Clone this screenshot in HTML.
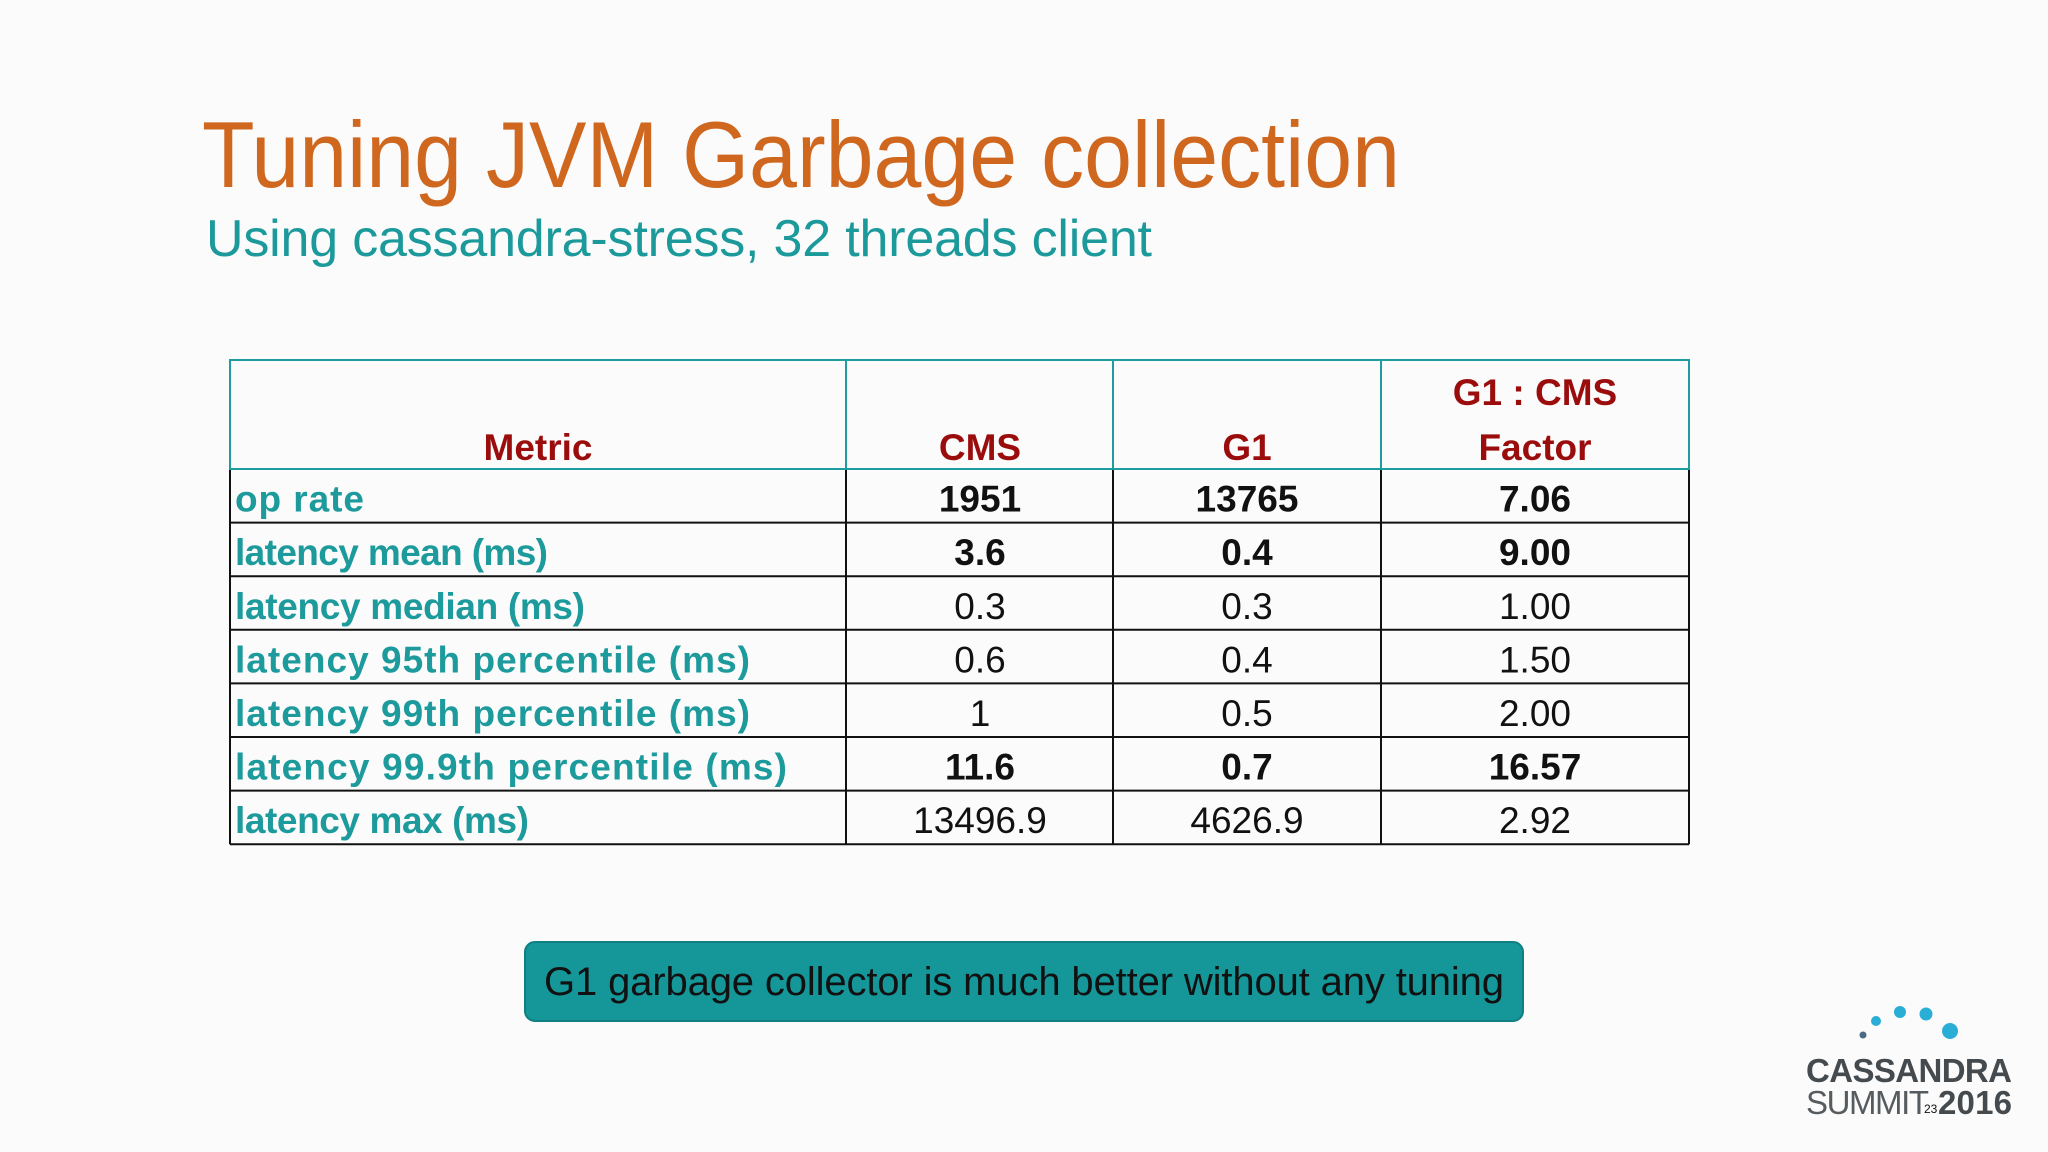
<!DOCTYPE html>
<html><head><meta charset="utf-8"><style>
html,body{margin:0;padding:0;background:#fbfbfb;}
svg{display:block;font-family:"Liberation Sans",Arial,sans-serif;}
</style></head><body>
<svg id="slide" width="2048" height="1152" viewBox="0 0 2048 1152">
<rect width="2048" height="1152" fill="#fbfbfb"/>
<text x="202" y="187" font-size="94" fill="#d0671f" textLength="1198" lengthAdjust="spacingAndGlyphs">Tuning JVM Garbage collection</text>
<text x="206" y="256" font-size="52" fill="#1c999b" textLength="946">Using cassandra-stress, 32 threads client</text>
<g id="tbl"></g>
<g>
<rect x="525" y="942" width="998" height="79" rx="10" fill="#15979a" stroke="#0f7f82" stroke-width="2"/>
<text x="1024" y="995" font-size="40" fill="#111" text-anchor="middle" textLength="960">G1 garbage collector is much better without any tuning</text>
</g>
<g>
<circle cx="1863" cy="1035" r="3.5" fill="#4a6a86"/>
<circle cx="1876" cy="1021" r="5" fill="#2aaed6"/>
<circle cx="1900" cy="1012" r="6" fill="#2aaed6"/>
<circle cx="1926" cy="1014" r="6.5" fill="#2aaed6"/>
<circle cx="1950" cy="1031" r="8" fill="#2aaed6"/>
<text x="1806" y="1082" font-size="33" font-weight="bold" fill="#444a4e" textLength="206">CASSANDRA</text>
<text x="1806" y="1114" font-size="33" fill="#555b5e" textLength="123">SUMMIT</text>
<text x="1938" y="1114" font-size="33" font-weight="bold" fill="#444a4e" textLength="74">2016</text>
<text x="1924" y="1113" font-size="12" fill="#111">23</text>
</g>
</svg>
<script>
const metrics=["op rate","latency mean (ms)","latency median (ms)","latency 95th percentile (ms)","latency 99th percentile (ms)","latency 99.9th percentile (ms)","latency max (ms)"];
const cmsVals=["1951","3.6","0.3","0.6","1","11.6","13496.9"];
const g1Vals=["13765","0.4","0.3","0.4","0.5","0.7","4626.9"];
const factorVals=["7.06","9.00","1.00","1.50","2.00","16.57","2.92"];
const boldRows=[true,true,false,false,false,true,false];
const NS="http://www.w3.org/2000/svg";
const g=document.getElementById('tbl');
const X=[230,846,1113,1381,1689],TOP=360,HB=469,RH=53.6;
const cx=[null,980,1247,1535];
function mk(t,a,txt){const e=document.createElementNS(NS,t);for(const k in a)e.setAttribute(k,a[k]);if(txt!=null)e.textContent=txt;g.appendChild(e);return e;}
const bottom=HB+RH*metrics.length;
for(let i=1;i<=metrics.length;i++){const l=mk('line',{x1:X[0],x2:X[4],y1:HB+RH*i,y2:HB+RH*i,stroke:'#111','stroke-width':2});

}
for(const x of X){const l=mk('line',{x1:x,x2:x,y1:HB,y2:bottom,stroke:'#111','stroke-width':2});

}
const hr=mk('rect',{x:X[0],y:TOP,width:X[4]-X[0],height:HB-TOP,fill:'none',stroke:'#1f9ca0','stroke-width':2});


for(const x of X.slice(1,4)){const l=mk('line',{x1:x,x2:x,y1:TOP,y2:HB,stroke:'#1f9ca0','stroke-width':2});

}
const hdr=[["Metric",538,460],["CMS",980,460],["G1",1247,460],["G1 : CMS",1535,405],["Factor",1535,460]];
for(const h of hdr){const t=mk('text',{x:h[1],y:h[2],'font-size':37,'font-weight':'bold',fill:'#9b0d0d','text-anchor':'middle'},h[0]);

}
metrics.forEach((m,i)=>{
 const y=HB+RH*(i+1)-11;
 const lab=mk('text',{x:235,y:y,'font-size':37,'font-weight':'bold',fill:'#1c9a9c'},m);
 lab.setAttribute('textLength',(m.length*18.4).toFixed(0));
 
 
 [cmsVals,g1Vals,factorVals].forEach((arr,j)=>{
  const t=mk('text',{x:cx[j+1],y:y,'font-size':37,'font-weight':boldRows[i]?'bold':'normal',fill:'#111','text-anchor':'middle'},arr[i]);
  
  
 });
});
</script>
</body></html>
